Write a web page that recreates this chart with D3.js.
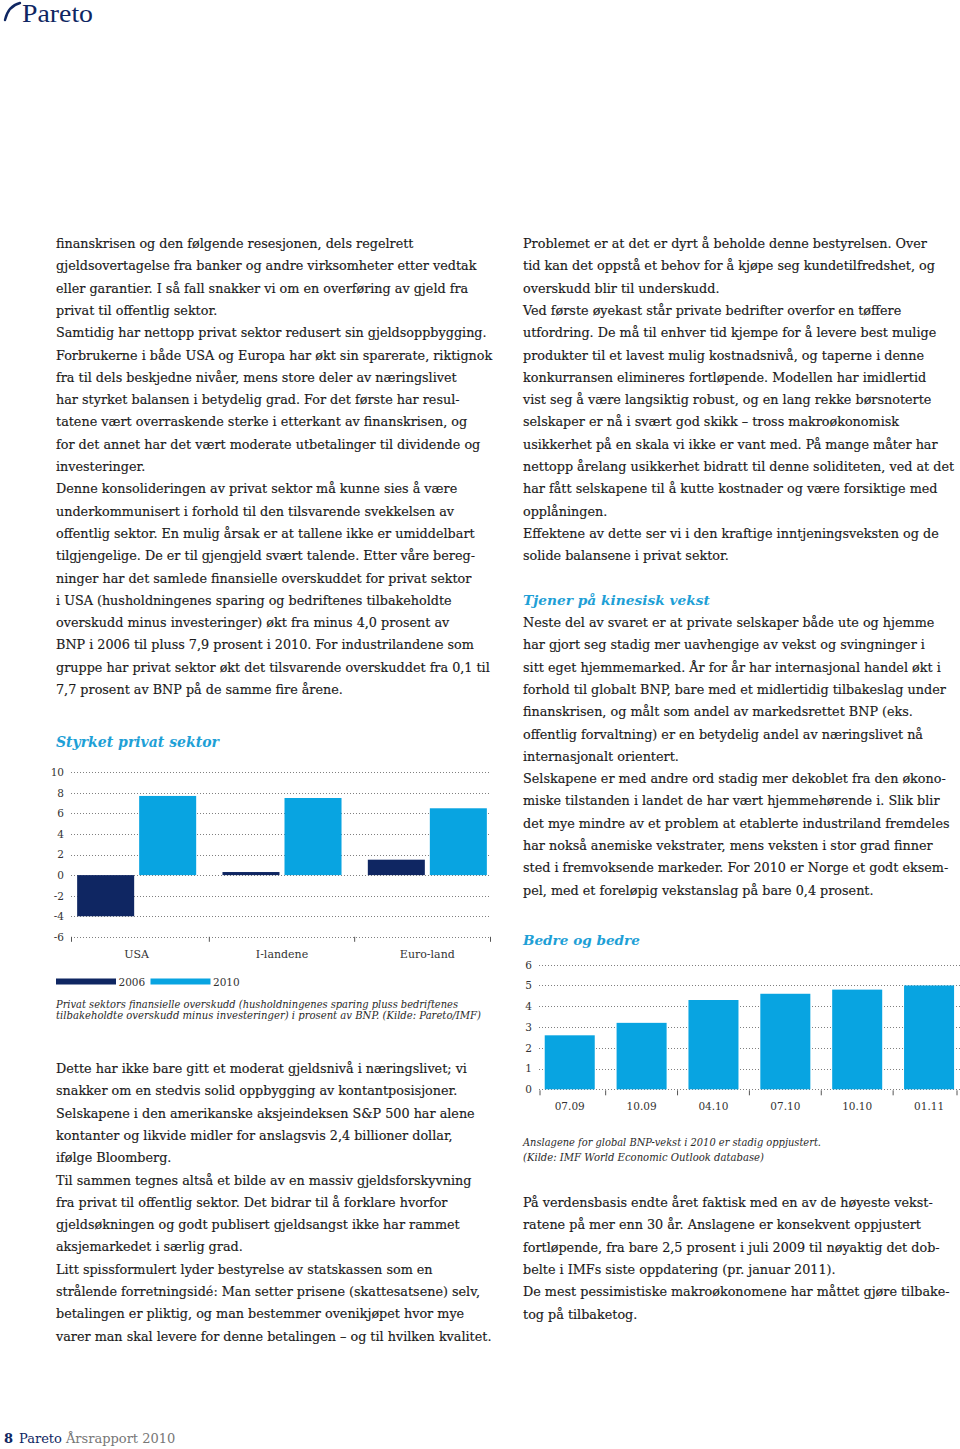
<!DOCTYPE html>
<html>
<head>
<meta charset="utf-8">
<script src="https://cdn.jsdelivr.net/npm/d3@7"></script>
<style>
html,body{margin:0;padding:0;background:#fff;}
svg{display:block;}
</style>
</head>
<body>
<svg id="page" width="960" height="1449"></svg>
<script>
// ---------- DATA ----------
const chart1Categories = ["USA", "I-landene", "Euro-land"];
const chart1Series = ["2006", "2010"];
const values2006 = [-4.0, 0.3, 1.5];
const values2010 = [7.7, 7.5, 6.5];
const chart1Ticks = [10, 8, 6, 4, 2, 0, -2, -4, -6];

const chart2Categories = ["07.09", "10.09", "04.10", "07.10", "10.10", "01.11"];
const chart2Values = [2.6, 3.2, 4.3, 4.6, 4.8, 5.0];
const chart2Ticks = [0, 1, 2, 3, 4, 5, 6];

const chart1Title = "Styrket privat sektor";
const chart1Caption = [
  "Privat sektors finansielle overskudd (husholdningenes sparing pluss bedriftenes",
  "tilbakeholdte overskudd minus investeringer) i prosent av BNP. (Kilde: Pareto/IMF)"
];
const chart2Title = "Bedre og bedre";
const chart2Caption = [
  "Anslagene for global BNP-vekst i 2010 er stadig oppjustert.",
  "(Kilde: IMF World Economic Outlook database)"
];

const leftTop = [
  "finanskrisen og den følgende resesjonen, dels regelrett",
  "gjeldsovertagelse fra banker og andre virksomheter etter vedtak",
  "eller garantier. I så fall snakker vi om en overføring av gjeld fra",
  "privat til offentlig sektor.",
  "Samtidig har nettopp privat sektor redusert sin gjeldsoppbygging.",
  "Forbrukerne i både USA og Europa har økt sin sparerate, riktignok",
  "fra til dels beskjedne nivåer, mens store deler av næringslivet",
  "har styrket balansen i betydelig grad. For det første har resul-",
  "tatene vært overraskende sterke i etterkant av finanskrisen, og",
  "for det annet har det vært moderate utbetalinger til dividende og",
  "investeringer.",
  "Denne konsolideringen av privat sektor må kunne sies å være",
  "underkommunisert i forhold til den tilsvarende svekkelsen av",
  "offentlig sektor. En mulig årsak er at tallene ikke er umiddelbart",
  "tilgjengelige. De er til gjengjeld svært talende. Etter våre bereg-",
  "ninger har det samlede finansielle overskuddet for privat sektor",
  "i USA (husholdningenes sparing og bedriftenes tilbakeholdte",
  "overskudd minus investeringer) økt fra minus 4,0 prosent av",
  "BNP i 2006 til pluss 7,9 prosent i 2010. For industrilandene som",
  "gruppe har privat sektor økt det tilsvarende overskuddet fra 0,1 til",
  "7,7 prosent av BNP på de samme fire årene."
];
const leftBottom = [
  "Dette har ikke bare gitt et moderat gjeldsnivå i næringslivet; vi",
  "snakker om en stedvis solid oppbygging av kontantposisjoner.",
  "Selskapene i den amerikanske aksjeindeksen S&P 500 har alene",
  "kontanter og likvide midler for anslagsvis 2,4 billioner dollar,",
  "ifølge Bloomberg.",
  "Til sammen tegnes altså et bilde av en massiv gjeldsforskyvning",
  "fra privat til offentlig sektor. Det bidrar til å forklare hvorfor",
  "gjeldsøkningen og godt publisert gjeldsangst ikke har rammet",
  "aksjemarkedet i særlig grad.",
  "Litt spissformulert lyder bestyrelse av statskassen som en",
  "strålende forretningsidé: Man setter prisene (skattesatsene) selv,",
  "betalingen er pliktig, og man bestemmer ovenikjøpet hvor mye",
  "varer man skal levere for denne betalingen – og til hvilken kvalitet."
];
const rightTop = [
  "Problemet er at det er dyrt å beholde denne bestyrelsen. Over",
  "tid kan det oppstå et behov for å kjøpe seg kundetilfredshet, og",
  "overskudd blir til underskudd.",
  "Ved første øyekast står private bedrifter overfor en tøffere",
  "utfordring. De må til enhver tid kjempe for å levere best mulige",
  "produkter til et lavest mulig kostnadsnivå, og taperne i denne",
  "konkurransen elimineres fortløpende. Modellen har imidlertid",
  "vist seg å være langsiktig robust, og en lang rekke børsnoterte",
  "selskaper er nå i svært god skikk – tross makroøkonomisk",
  "usikkerhet på en skala vi ikke er vant med. På mange måter har",
  "nettopp årelang usikkerhet bidratt til denne soliditeten, ved at det",
  "har fått selskapene til å kutte kostnader og være forsiktige med",
  "opplåningen.",
  "Effektene av dette ser vi i den kraftige inntjeningsveksten og de",
  "solide balansene i privat sektor."
];
const rightHeading = "Tjener på kinesisk vekst";
const rightMid = [
  "Neste del av svaret er at private selskaper både ute og hjemme",
  "har gjort seg stadig mer uavhengige av vekst og svingninger i",
  "sitt eget hjemmemarked. År for år har internasjonal handel økt i",
  "forhold til globalt BNP, bare med et midlertidig tilbakeslag under",
  "finanskrisen, og målt som andel av markedsrettet BNP (eks.",
  "offentlig forvaltning) er en betydelig andel av næringslivet nå",
  "internasjonalt orientert.",
  "Selskapene er med andre ord stadig mer dekoblet fra den økono-",
  "miske tilstanden i landet de har vært hjemmehørende i. Slik blir",
  "det mye mindre av et problem at etablerte industriland fremdeles",
  "har nokså anemiske vekstrater, mens veksten i stor grad finner",
  "sted i fremvoksende markeder. For 2010 er Norge et godt eksem-",
  "pel, med et foreløpig vekstanslag på bare 0,4 prosent."
];
const rightBottom = [
  "På verdensbasis endte året faktisk med en av de høyeste vekst-",
  "ratene på mer enn 30 år. Anslagene er konsekvent oppjustert",
  "fortløpende, fra bare 2,5 prosent i juli 2009 til nøyaktig det dob-",
  "belte i IMFs siste oppdatering (pr. januar 2011).",
  "De mest pessimistiske makroøkonomene har måttet gjøre tilbake-",
  "tog på tilbaketog."
];

// ---------- STYLE ----------
const NAVY = "#0f2662";
const BLUE = "#08a4e1";
const TITLE_BLUE = "#1ea0d6";
const TEXT = "#1a1a1a";
const SERIF = "'DejaVu Serif', 'Liberation Serif', serif";
const GRID = "#808080";

const svg = d3.select("#page");

// calibrate font size so that a reference line has the reference width
function fitSize(str, targetWidth, family, style, weight) {
  const t = svg.append("text").attr("font-family", family).attr("font-size", 100)
    .attr("font-style", style || "normal").attr("font-weight", weight || "normal").text(str);
  const w = t.node().getComputedTextLength();
  t.remove();
  return 100 * targetWidth / w;
}
const bodySize = fitSize(leftTop[0], 358, SERIF);

function paragraph(lines, x, y0, lh) {
  svg.append("g").selectAll("text").data(lines).join("text")
    .attr("x", x).attr("y", (d, i) => y0 + i * lh)
    .attr("font-family", SERIF).attr("font-size", bodySize)
    .attr("fill", TEXT).attr("stroke", TEXT).attr("stroke-width", 0.15)
    .text(d => d);
}
const LH = 22.3;
paragraph(leftTop, 56, 248, LH);
paragraph(leftBottom, 56, 1073, LH);
paragraph(rightTop, 523, 248, LH);
paragraph(rightMid, 523, 627, LH);
paragraph(rightBottom, 523, 1207, LH);

function heading(str, x, y, width) {
  const s = fitSize(str, width, SERIF, "italic", "bold");
  svg.append("text").attr("x", x).attr("y", y)
    .attr("font-family", SERIF).attr("font-style", "italic").attr("font-weight", "bold")
    .attr("font-size", s).attr("fill", TITLE_BLUE).text(str);
}
heading(rightHeading, 523, 605, 187);
heading(chart1Title, 56, 747, 163);
heading(chart2Title, 523, 945, 117);

function caption(lines, x, y0, lh, widths) {
  lines.forEach((str, i) => {
    svg.append("text").attr("x", x).attr("y", y0 + i * lh)
      .attr("font-family", SERIF).attr("font-style", "italic")
      .attr("font-size", 10.5).attr("fill", "#2a2a2a")
      .attr("textLength", widths[i]).attr("lengthAdjust", "spacingAndGlyphs")
      .text(str);
  });
}
caption(chart1Caption, 56, 1007.5, 11, [402, 425]);
caption(chart2Caption, 523, 1146, 14.5, [298, 241]);

// ---------- CHART 1 ----------
{
  const y = d3.scaleLinear().domain([-6, 10]).range([936.8, 772.3]);
  const gx0 = 71, gx1 = 491;
  const x0 = d3.scaleBand().domain(chart1Categories).range([64, 500]).padding(0);
  const x1 = d3.scaleBand().domain(chart1Series).range([0, x0.bandwidth()])
    .paddingInner(0.0806).paddingOuter(0.212);
  const g = svg.append("g");

  g.append("g").selectAll("line").data(chart1Ticks).join("line")
    .attr("x1", gx0).attr("x2", gx1)
    .attr("y1", d => Math.round(y(d)) + 0.5).attr("y2", d => Math.round(y(d)) + 0.5)
    .attr("stroke", GRID).attr("stroke-width", 1).attr("stroke-dasharray", "1,2");

  const yAxis = d3.axisLeft(y).tickValues(chart1Ticks).tickSize(0).tickPadding(0)
    .tickFormat(d => String(d));
  const ya = g.append("g").attr("transform", "translate(64,0)").call(yAxis);
  ya.select(".domain").remove();
  ya.selectAll("text").attr("font-family", SERIF).attr("font-size", 10.5).attr("fill", "#333");

  const rows = chart1Categories.map((c, i) => ({ cat: c, vals: [values2006[i], values2010[i]] }));
  const colors = d3.scaleOrdinal().domain(chart1Series).range([NAVY, BLUE]);
  g.append("g").selectAll("g").data(rows).join("g")
    .attr("transform", d => `translate(${x0(d.cat)},0)`)
    .selectAll("rect").data(d => chart1Series.map((s, j) => ({ s, v: d.vals[j] }))).join("rect")
    .attr("x", d => x1(d.s)).attr("width", x1.bandwidth())
    .attr("y", d => y(Math.max(0, d.v))).attr("height", d => Math.abs(y(d.v) - y(0)))
    .attr("fill", d => colors(d.s));

  const tickX = [gx0 + 0.5].concat(chart1Categories.slice(1).map(c => x0(c))).concat([gx1 - 0.5]);
  g.append("g").selectAll("line").data(tickX).join("line")
    .attr("x1", d => d).attr("x2", d => d)
    .attr("y1", y(-6)).attr("y2", y(-6) + 5)
    .attr("stroke", "#555").attr("stroke-width", 1);

  g.append("g").selectAll("text").data(chart1Categories).join("text")
    .attr("x", d => x0(d) + x0.bandwidth() / 2).attr("y", 958)
    .attr("text-anchor", "middle").attr("font-family", SERIF).attr("font-size", 11)
    .attr("fill", "#333").text(d => d);

  const leg = g.append("g");
  chart1Series.forEach((s, i) => {
    const lx = 56 + i * 94.5;
    leg.append("rect").attr("x", lx).attr("y", 978.5).attr("width", 60).attr("height", 6)
      .attr("fill", colors(s));
    leg.append("text").attr("x", lx + 62.5).attr("y", 986)
      .attr("font-family", SERIF).attr("font-size", 10.5).attr("fill", "#333").text(s);
  });
}

// ---------- CHART 2 ----------
{
  const y = d3.scaleLinear().domain([0, 6]).range([1089.3, 964.7]);
  const gx0 = 539, gx1 = 960;
  const x = d3.scaleBand().domain(chart2Categories).range([533.8, 965])
    .paddingInner(0.304).paddingOuter(0.152);
  const g = svg.append("g");

  g.append("g").selectAll("line").data(chart2Ticks).join("line")
    .attr("x1", gx0).attr("x2", gx1)
    .attr("y1", d => Math.round(y(d)) + 0.5).attr("y2", d => Math.round(y(d)) + 0.5)
    .attr("stroke", GRID).attr("stroke-width", 1).attr("stroke-dasharray", "1,2");

  const yAxis = d3.axisLeft(y).tickValues(chart2Ticks).tickSize(0).tickPadding(0)
    .tickFormat(d => String(d));
  const ya = g.append("g").attr("transform", "translate(532,0)").call(yAxis);
  ya.select(".domain").remove();
  ya.selectAll("text").attr("font-family", SERIF).attr("font-size", 10.5).attr("fill", "#333");

  g.append("g").selectAll("rect").data(chart2Categories.map((c, i) => ({ c, v: chart2Values[i] })))
    .join("rect")
    .attr("x", d => x(d.c)).attr("width", x.bandwidth())
    .attr("y", d => y(d.v)).attr("height", d => y(0) - y(d.v))
    .attr("fill", BLUE);

  const step = x.step();
  const tickX = chart2Categories.map(c => Math.max(gx0 + 1, x(c) - step * x.paddingInner() / 2))
    .concat([gx1 - 3]);
  g.append("g").selectAll("line").data(tickX).join("line")
    .attr("x1", d => d).attr("x2", d => d)
    .attr("y1", y(0) + 1).attr("y2", y(0) + 6)
    .attr("stroke", "#555").attr("stroke-width", 1);

  g.append("g").selectAll("text").data(chart2Categories).join("text")
    .attr("x", d => x(d) + x.bandwidth() / 2).attr("y", 1110)
    .attr("text-anchor", "middle").attr("font-family", SERIF).attr("font-size", 10.5)
    .attr("fill", "#333").text(d => d);
}

// ---------- LOGO & FOOTER ----------
svg.append("path").attr("d", "M5,20 C7,11 12,5 20,3").attr("fill", "none")
  .attr("stroke", NAVY).attr("stroke-width", 2.4).attr("stroke-linecap", "round");
svg.append("text").attr("x", 22).attr("y", 22).attr("font-family", "'Liberation Serif', serif")
  .attr("font-size", 25).attr("fill", NAVY)
  .attr("textLength", 71).attr("lengthAdjust", "spacingAndGlyphs").text("Pareto");

const foot = svg.append("text").attr("x", 4).attr("y", 1443)
  .attr("font-family", SERIF).attr("font-size", 13);
foot.append("tspan").attr("font-weight", "bold").attr("fill", NAVY).text("8");
foot.append("tspan").attr("dx", 6).attr("fill", NAVY).text("Pareto");
foot.append("tspan").attr("dx", 4).attr("fill", "#777").text("Årsrapport 2010");
</script>
</body>
</html>
